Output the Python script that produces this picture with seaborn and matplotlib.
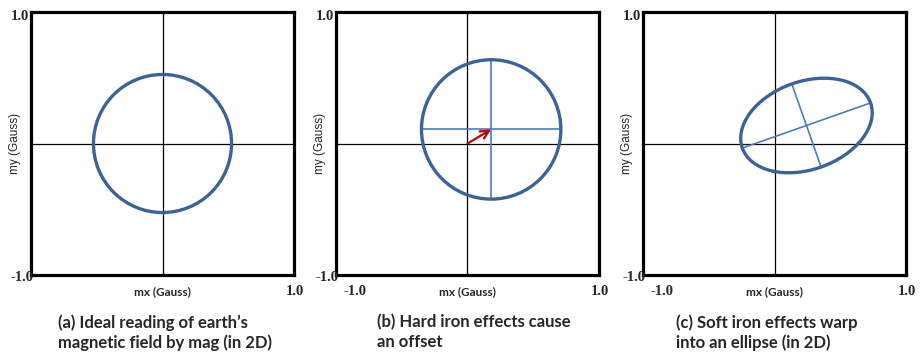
import numpy as np
import pandas as pd
import matplotlib
matplotlib.use("Agg")
import matplotlib.pyplot as plt
from matplotlib.patches import Ellipse
import seaborn as sns

# ---- data (Gauss) ----
panels = ["a", "b", "c"]
centers_x = [0.0, 0.18, 0.243]
centers_y = [0.0, 0.107, 0.137]
semi_major = [0.525, 0.53, 0.517]
semi_minor = [0.525, 0.53, 0.335]
angles_deg = [0.0, 0.0, 19.4]
show_axes_lines = [False, True, True]
show_offset_arrow = [False, True, False]
show_xmin_label = [False, True, True]
captions = [
    "(a) Ideal reading of earth\u2019s\nmagnetic field by mag (in 2D)",
    "(b) Hard iron effects cause\nan offset",
    "(c) Soft iron effects warp\ninto an ellipse (in 2D)",
]
caption_x_px = [58, 377, 676]
x_label = "mx (Gauss)"
y_label = "my (Gauss)"
tick_max = "1.0"
tick_min = "-1.0"

sns.set_theme(style="white")
plt.rcParams["font.family"] = ["Liberation Sans", "DejaVu Sans"]

W, H = 923, 356
fig = plt.figure(figsize=(W / 100, H / 100), dpi=100)
fig.patch.set_facecolor("white")

box_left_px = [31, 336, 643]
box_w = 263
box_top = 12
box_h = 263

circ_col = "#3A6399"
inner_col = "#4A7EBB"

for i in range(3):
    ax = fig.add_axes([box_left_px[i] / W, (H - box_top - box_h) / H, box_w / W, box_h / H])
    ax.set_xlim(-1, 1)
    ax.set_ylim(-1, 1)
    ax.set_xticks([])
    ax.set_yticks([])
    for s in ax.spines.values():
        s.set_visible(True)
        s.set_color("black")
        s.set_linewidth(2.3)
    # origin axes
    zero = pd.DataFrame({"x": [-1, 1], "y": [0, 0]})
    sns.lineplot(data=zero, x="x", y="y", ax=ax, color="black", linewidth=0.9, sort=False)
    sns.lineplot(data=zero, x="y", y="x", ax=ax, color="black", linewidth=0.9, sort=False,
                 orient="y")
    cx, cy = centers_x[i], centers_y[i]
    a, b, th = semi_major[i], semi_minor[i], np.deg2rad(angles_deg[i])
    if show_axes_lines[i]:
        ux, uy = np.cos(th), np.sin(th)
        vx, vy = -np.sin(th), np.cos(th)
        maj = pd.DataFrame({"x": [cx - a * ux, cx + a * ux], "y": [cy - a * uy, cy + a * uy]})
        mnr = pd.DataFrame({"x": [cx - b * vx, cx + b * vx], "y": [cy - b * vy, cy + b * vy]})
        sns.lineplot(data=maj, x="x", y="y", ax=ax, color=inner_col, linewidth=1.2, sort=False,
                     estimator=None)
        sns.lineplot(data=mnr, x="x", y="y", ax=ax, color=inner_col, linewidth=1.2, sort=False,
                     estimator=None)
    ell = Ellipse((cx, cy), 2 * a, 2 * b, angle=angles_deg[i], fill=False,
                  edgecolor=circ_col, linewidth=2.4, zorder=5)
    ax.add_patch(ell)
    if show_offset_arrow[i]:
        ax.annotate("", xy=(cx, cy), xytext=(0, 0),
                    arrowprops=dict(arrowstyle="->", color="#C00000", lw=1.6,
                                    shrinkA=0, shrinkB=0, mutation_scale=15), zorder=6)
    ax.set_xlabel("")
    ax.set_ylabel("")
    # labels
    num_font = dict(family=["Liberation Serif", "DejaVu Serif"], fontsize=10.5, fontweight="bold")
    ax.text(-0.008, 0.981, tick_max, transform=ax.transAxes, ha="right", va="center", **num_font)
    ax.text(0.008, -0.008, tick_min, transform=ax.transAxes, ha="right", va="center", **num_font)
    ax.text(1.004, -0.061, tick_max, transform=ax.transAxes, ha="center", va="center", **num_font)
    if show_xmin_label[i]:
        ax.text(0.072, -0.061, tick_min, transform=ax.transAxes, ha="center", va="center", **num_font)
    ax.text(0.498, -0.065, x_label, transform=ax.transAxes, ha="center", va="center",
            family=["Lato", "DejaVu Sans"], fontsize=8.5, fontweight="bold")
    ax.text(-0.061, 0.5, y_label, transform=ax.transAxes, ha="center", va="center",
            rotation=90, family=["Liberation Sans", "DejaVu Sans"], fontsize=8.5)
    fig.text(caption_x_px[i] / W, (H - 314) / H, captions[i], ha="left", va="top",
             family=["Lato", "DejaVu Sans"], fontsize=12, fontweight="bold", linespacing=1.25)

fig.savefig("out.png", dpi=100, facecolor="white")
